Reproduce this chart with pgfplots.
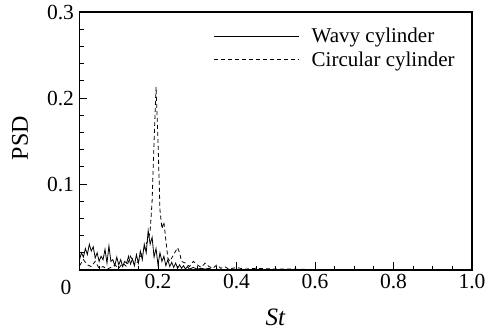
\documentclass[border=0pt]{standalone}
\usepackage{fontspec}
\setmainfont{Liberation Serif}
\usepackage{pgfplots}
\pgfplotsset{compat=1.18}
\begin{document}
\begin{tikzpicture}
\begin{axis}[
  scale only axis,
  width=392.5pt, height=258pt,
  xmin=0, xmax=1, ymin=0, ymax=0.3,
  xtick={0,0.2,0.4,0.6,0.8,1.0},
  xticklabels={,0.2,0.4,0.6,0.8,1.0},
  ytick={0,0.1,0.2,0.3},
  yticklabels={,0.1,0.2,0.3},
  minor x tick num=3,
  minor y tick num=4,
  tick align=inside,
  xtick pos=bottom, ytick pos=left,
  major tick length=8pt, minor tick length=4.5pt,
  every tick/.style={line width=0.9pt, black},
  axis line style={line width=1.4pt},
  /pgf/number format/assume math mode=true,
  tick label style={font=\fontsize{21.5}{24}\selectfont},
  xticklabel style={yshift=-1pt},
  yticklabel style={xshift=-2pt},
  legend cell align=left,
  legend style={draw=none, fill=none, at={(axis description cs:0.342,0.945)}, anchor=north west,
    font=\fontsize{21}{24}\selectfont, inner sep=0pt, column sep=10pt, row sep=3pt,
    nodes={inner sep=2pt}},
  legend image code/.code={\draw[#1] (0pt,0pt) -- (85pt,0pt);},
  clip=true,
]
\addplot[black, line width=0.8pt] coordinates {
(0.000,0.012) (0.005,0.020) (0.010,0.015) (0.015,0.025) (0.020,0.018) (0.025,0.030)
(0.030,0.022) (0.035,0.027) (0.040,0.014) (0.045,0.020) (0.050,0.010) (0.055,0.016)
(0.060,0.012) (0.065,0.024) (0.070,0.008) (0.075,0.028) (0.080,0.010) (0.085,0.012)
(0.090,0.005) (0.095,0.015) (0.100,0.006) (0.105,0.012) (0.110,0.004) (0.115,0.010)
(0.120,0.008) (0.125,0.016) (0.130,0.007) (0.135,0.013) (0.140,0.005) (0.145,0.018)
(0.150,0.008) (0.155,0.022) (0.160,0.012) (0.165,0.030) (0.170,0.020) (0.175,0.046)
(0.180,0.030) (0.185,0.038) (0.190,0.015) (0.195,0.025) (0.200,0.006) (0.205,0.020)
(0.210,0.010) (0.215,0.016) (0.220,0.005) (0.225,0.012) (0.230,0.004) (0.235,0.009)
(0.240,0.003) (0.245,0.008) (0.250,0.002) (0.255,0.006) (0.260,0.002) (0.265,0.005)
(0.270,0.001) (0.275,0.004) (0.280,0.001) (0.290,0.003) (0.300,0.001) (0.310,0.002)
(0.320,0.001) (0.330,0.002) (0.340,0.000) (0.350,0.001) (0.370,0.000) (0.400,0.001)
(0.450,0.000) (0.500,0.000) (0.600,0.000) (0.800,0.000) (1.000,0.000)
};
\addlegendentry{Wavy cylinder}
\addplot[black, line width=0.8pt, dash pattern=on 4pt off 3pt] coordinates {
(0.000,0.005) (0.010,0.012) (0.020,0.006) (0.030,0.004) (0.040,0.010) (0.050,0.002)
(0.060,0.004) (0.070,0.001) (0.080,0.003) (0.090,0.006) (0.100,0.002) (0.110,0.008)
(0.120,0.004) (0.130,0.016) (0.140,0.006) (0.150,0.010) (0.160,0.020) (0.170,0.030)
(0.175,0.035) (0.180,0.045) (0.185,0.080) (0.190,0.150) (0.195,0.213) (0.200,0.150)
(0.205,0.070) (0.210,0.048) (0.215,0.056) (0.220,0.035) (0.225,0.014) (0.230,0.010)
(0.240,0.018) (0.250,0.026) (0.255,0.020) (0.260,0.010) (0.270,0.008) (0.280,0.004)
(0.290,0.010) (0.300,0.006) (0.310,0.003) (0.320,0.008) (0.330,0.004) (0.340,0.002)
(0.350,0.006) (0.360,0.002) (0.370,0.004) (0.380,0.001) (0.400,0.003) (0.420,0.001)
(0.450,0.002) (0.500,0.001) (0.550,0.001) (0.600,0.0005) (0.700,0.000) (1.000,0.000)
};
\addlegendentry{Circular cylinder}
\end{axis}
\node[font=\fontsize{21.5}{24}\selectfont] at (-13.5pt,-17pt) {0};
\node[font=\fontsize{24}{28}\selectfont, rotate=90] at (-59.5pt,132pt) {PSD};
\node[font=\fontsize{25}{28}\selectfont] at (196pt,-47pt) {\textit{St}};
\pgfresetboundingbox
\path (-79.5pt,-63pt) rectangle (408.5pt,270pt);
\end{tikzpicture}
\end{document}
